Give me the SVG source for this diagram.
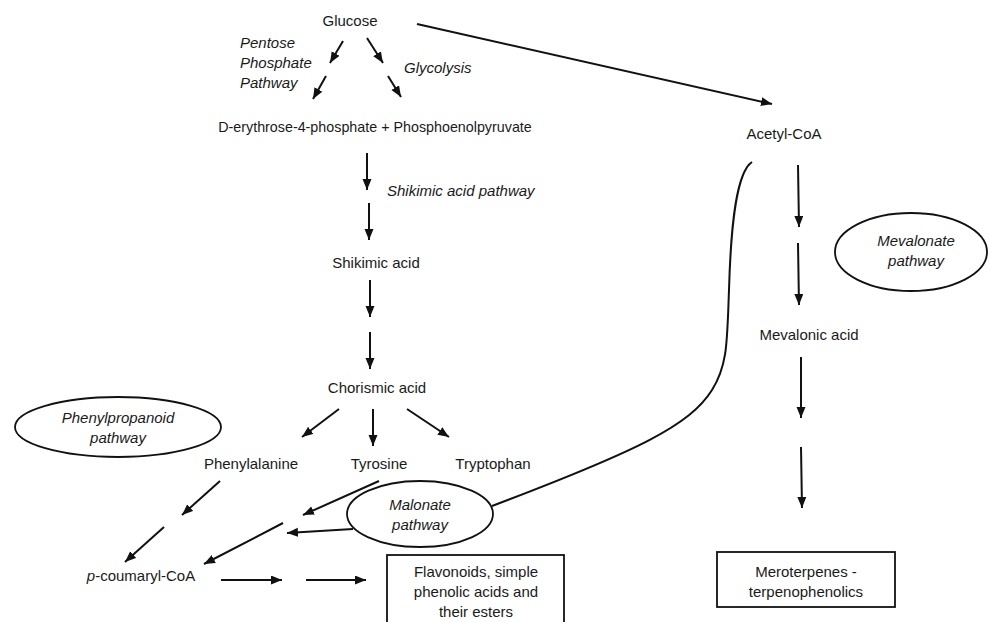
<svg xmlns="http://www.w3.org/2000/svg" width="990" height="622" viewBox="0 0 990 622">
<defs>
<marker id="ah" markerUnits="userSpaceOnUse" markerWidth="12" markerHeight="10" refX="11" refY="4.5" orient="auto">
<path d="M0,0 L11,4.5 L0,9 z" fill="#111"/>
</marker>
<style>
text{font-family:"Liberation Sans",Arial,sans-serif;font-size:15px;fill:#1a1a1a;text-anchor:middle}
.it{font-style:italic}
.st{text-anchor:start}
.ar{stroke:#111;stroke-width:2;fill:none;marker-end:url(#ah)}
.ln{stroke:#111;stroke-width:2;fill:none}
.sh{fill:#fff;stroke:#111;stroke-width:1.8}
</style>
</defs>
<rect width="990" height="622" fill="#fff"/>
<g id="connectors">
<path class="ln" d="M752,162 C737,172 731,220 729,290 C727,340 728,365 712,390 C690,425 640,450 492,506"/>
<line class="ar" x1="343" y1="41" x2="330" y2="63"/>
<line class="ar" x1="326" y1="76" x2="313" y2="99"/>
<line class="ar" x1="367" y1="38" x2="383" y2="63"/>
<line class="ar" x1="388" y1="76" x2="401" y2="97"/>
<line class="ar" x1="417" y1="24" x2="772" y2="104"/>
<line class="ar" x1="367" y1="153" x2="367" y2="190"/>
<line class="ar" x1="369" y1="203" x2="369" y2="240"/>
<line class="ar" x1="370" y1="280" x2="370" y2="317"/>
<line class="ar" x1="370" y1="332" x2="370" y2="369"/>
<line class="ar" x1="339" y1="409" x2="302" y2="437"/>
<line class="ar" x1="373" y1="409" x2="373" y2="446"/>
<line class="ar" x1="407" y1="409" x2="449" y2="437"/>
<line class="ar" x1="220" y1="481" x2="182" y2="515"/>
<line class="ar" x1="164" y1="527" x2="125" y2="562"/>
<line class="ar" x1="379" y1="481" x2="303" y2="515"/>
<line class="ar" x1="283" y1="523" x2="204" y2="564"/>
<line class="ar" x1="353" y1="529" x2="287" y2="533"/>
<line class="ar" x1="221" y1="580" x2="282" y2="580"/>
<line class="ar" x1="306" y1="580" x2="366" y2="580"/>
<line class="ar" x1="798" y1="165" x2="799" y2="227"/>
<line class="ar" x1="798" y1="243" x2="799" y2="305"/>
<line class="ar" x1="801" y1="357" x2="801" y2="418"/>
<line class="ar" x1="801" y1="447" x2="802" y2="508"/>
</g>
<g id="glucose"><text x="350" y="26">Glucose</text></g>
<g id="ppp-label"><text class="it st" x="240" y="48">Pentose</text><text class="it st" x="240" y="68">Phosphate</text><text class="it st" x="240" y="88">Pathway</text></g>
<g id="glycolysis-label"><text class="it st" x="404" y="73">Glycolysis</text></g>
<g id="e4p-pep"><text x="375" y="132" style="font-size:14.3px">D-erythrose-4-phosphate + Phosphoenolpyruvate</text></g>
<g id="acetyl-coa"><text x="784" y="139">Acetyl-CoA</text></g>
<g id="shikimic-label"><text class="it st" x="387" y="196">Shikimic acid pathway</text></g>
<g id="shikimic-acid"><text x="376" y="268">Shikimic acid</text></g>
<g id="chorismic-acid"><text x="377" y="393">Chorismic acid</text></g>
<g id="mevalonate-pathway"><ellipse class="sh" cx="911" cy="252" rx="76" ry="39"/><text class="it" x="916" y="246">Mevalonate</text><text class="it" x="916" y="266">pathway</text></g>
<g id="mevalonic-acid"><text x="809" y="340">Mevalonic acid</text></g>
<g id="phenylpropanoid-pathway"><ellipse class="sh" cx="118" cy="427" rx="103" ry="30"/><text class="it" x="118" y="423">Phenylpropanoid</text><text class="it" x="118" y="443">pathway</text></g>
<g id="phenylalanine"><text x="251" y="469">Phenylalanine</text></g>
<g id="tyrosine"><text x="379" y="469">Tyrosine</text></g>
<g id="tryptophan"><text x="493" y="469">Tryptophan</text></g>
<g id="malonate-pathway"><ellipse class="sh" cx="420" cy="514" rx="73" ry="33"/><text class="it" x="420" y="510">Malonate</text><text class="it" x="420" y="530">pathway</text></g>
<g id="p-coumaryl-coa"><text x="141" y="581"><tspan class="it">p</tspan>-coumaryl-CoA</text></g>
<g id="flavonoids"><rect class="sh" x="387" y="555" width="177" height="75"/><text x="476" y="577">Flavonoids, simple</text><text x="476" y="597">phenolic acids and</text><text x="476" y="617">their esters</text></g>
<g id="meroterpenes"><rect class="sh" x="717" y="552" width="178" height="55"/><text x="806" y="577">Meroterpenes -</text><text x="806" y="597">terpenophenolics</text></g>
</svg>
